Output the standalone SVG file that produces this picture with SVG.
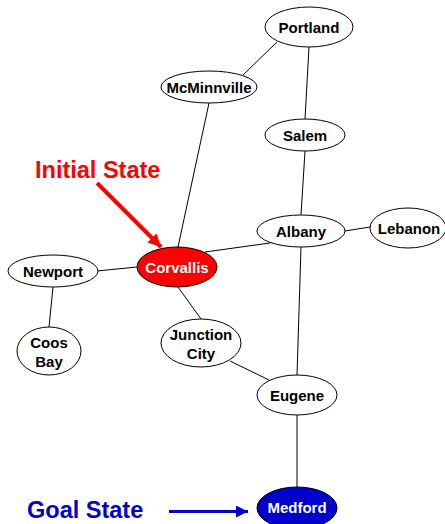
<svg xmlns="http://www.w3.org/2000/svg" width="445" height="524" viewBox="0 0 445 524">
  <style>
    .node ellipse { fill: #ffffff; stroke: #000000; stroke-width: 1; }
    .node text { font-family: "Liberation Sans", Arial, sans-serif; font-weight: bold; font-size: 15px; fill: #000000; text-anchor: middle; }
    .node.start ellipse { fill: #ff0000; }
    .node.goal ellipse { fill: #0000cc; }
    .node.start text, .node.goal text { fill: #ffffff; }
    .edges line { stroke: #000000; stroke-width: 1; }
    .label { font-family: "Liberation Sans", Arial, sans-serif; font-weight: bold; font-size: 23.5px; }
  </style>
  <defs>
    <marker id="headRed" viewBox="0 0 10 10" refX="10" refY="5" markerWidth="3.2" markerHeight="3.2" orient="auto" markerUnits="strokeWidth">
      <path d="M0,0 L10,5 L0,10 Z" fill="#ff0000"/>
    </marker>
    <marker id="headBlue" viewBox="0 0 10 10" refX="10" refY="5" markerWidth="4" markerHeight="4" orient="auto" markerUnits="strokeWidth">
      <path d="M0,0 L10,5 L0,10 Z" fill="#0000cc"/>
    </marker>
  </defs>

  <g class="edges">
    <line x1="277" y1="42" x2="243" y2="75"/>
    <line x1="309" y1="47" x2="305" y2="119"/>
    <line x1="209" y1="103" x2="178" y2="247"/>
    <line x1="305" y1="151" x2="301" y2="215"/>
    <line x1="205" y1="252" x2="270" y2="243"/>
    <line x1="345" y1="231" x2="370" y2="227"/>
    <line x1="97" y1="271" x2="137" y2="267"/>
    <line x1="53" y1="287" x2="49" y2="327"/>
    <line x1="178" y1="287" x2="201" y2="319"/>
    <line x1="230" y1="361" x2="269" y2="380"/>
    <line x1="301" y1="247" x2="297" y2="375"/>
    <line x1="297" y1="415" x2="297" y2="488"/>
  </g>

  <g id="portland" class="node">
    <ellipse cx="309" cy="27" rx="44" ry="20"/>
    <text x="309" y="33">Portland</text>
  </g>
  <g id="mcminnville" class="node">
    <ellipse cx="209" cy="87" rx="48" ry="16"/>
    <text x="209" y="93">McMinnville</text>
  </g>
  <g id="salem" class="node">
    <ellipse cx="305" cy="135" rx="40" ry="16"/>
    <text x="305" y="141">Salem</text>
  </g>
  <g id="albany" class="node">
    <ellipse cx="301" cy="231" rx="44" ry="16"/>
    <text x="301" y="237">Albany</text>
  </g>
  <g id="lebanon" class="node">
    <ellipse cx="408" cy="228" rx="38" ry="20"/>
    <text x="409" y="234">Lebanon</text>
  </g>
  <g id="corvallis" class="node start">
    <ellipse cx="177" cy="267" rx="40" ry="20"/>
    <text x="177" y="273">Corvallis</text>
  </g>
  <g id="newport" class="node">
    <ellipse cx="53" cy="271" rx="45" ry="16"/>
    <text x="53" y="277">Newport</text>
  </g>
  <g id="coos-bay" class="node">
    <ellipse cx="49" cy="351" rx="32" ry="24"/>
    <text x="49" y="348">Coos</text>
    <text x="49" y="367">Bay</text>
  </g>
  <g id="junction-city" class="node">
    <ellipse cx="201" cy="343" rx="40" ry="24"/>
    <text x="201" y="340">Junction</text>
    <text x="201" y="359">City</text>
  </g>
  <g id="eugene" class="node">
    <ellipse cx="297" cy="395" rx="40" ry="20"/>
    <text x="297" y="401">Eugene</text>
  </g>
  <g id="medford" class="node goal">
    <ellipse cx="297" cy="508" rx="40" ry="21"/>
    <text x="297" y="513">Medford</text>
  </g>

  <g id="initial-state">
    <text class="label" x="35" y="178" fill="#ff0000">Initial State</text>
    <line x1="97" y1="183" x2="161" y2="247" stroke="#ff0000" stroke-width="4" marker-end="url(#headRed)"/>
  </g>
  <g id="goal-state">
    <text class="label" x="27" y="518" fill="#0000cc">Goal State</text>
    <line x1="169" y1="511.5" x2="248" y2="511.5" stroke="#0000cc" stroke-width="3" marker-end="url(#headBlue)"/>
  </g>
</svg>
